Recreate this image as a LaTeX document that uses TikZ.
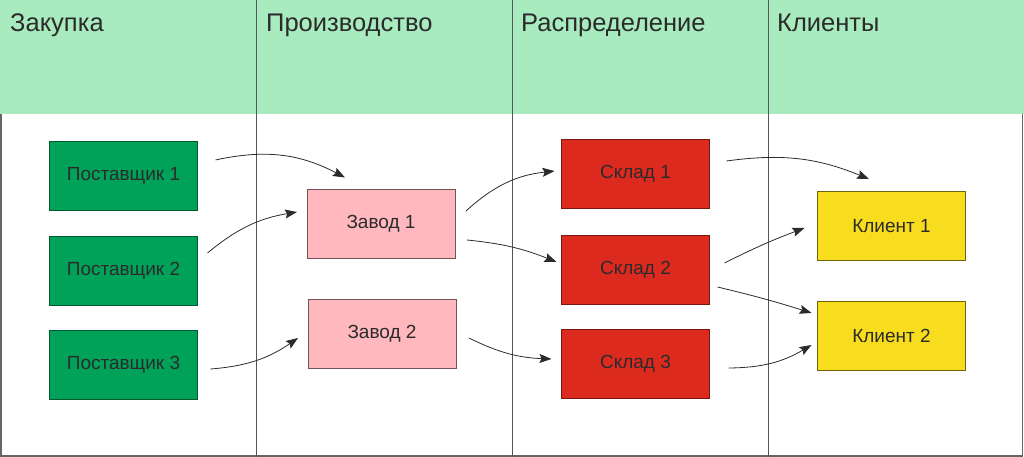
\documentclass[tikz,border=0pt]{standalone}
\usepackage{fontspec}
\setmainfont{Liberation Sans}
\usetikzlibrary{arrows.meta}
\definecolor{headgreen}{HTML}{A8EBBE}
\definecolor{boxgreen}{HTML}{00A259}
\definecolor{boxpink}{HTML}{FFB8BE}
\definecolor{boxred}{HTML}{DC2A1F}
\definecolor{boxyellow}{HTML}{F8DD1E}
\definecolor{ink}{HTML}{2B2B2B}
\newcommand{\lanehead}[3]{\node[anchor=base west,inner sep=0pt,font=\fontsize{25.5}{28}\selectfont,text=ink] (#1) at (#2) {#3};}
\tikzset{
  unit/.style={draw,line width=0.8pt,minimum width=148pt,minimum height=69pt,inner sep=0pt,outer sep=0pt,text=ink,font=\fontsize{19}{22}\selectfont},
  supplier/.style={unit,fill=boxgreen,draw=boxgreen!55!black},
  plant/.style={unit,fill=boxpink,draw=boxpink!45!black},
  store/.style={unit,fill=boxred,draw=boxred!55!black},
  client/.style={unit,fill=boxyellow,draw=boxyellow!45!black},
  flow/.style={-{Stealth[length=12pt,width=9pt,inset=2pt]},line width=0.8pt,draw=ink}
}
\begin{document}
\begin{tikzpicture}[x=1pt,y=1pt]
\useasboundingbox (0,0) rectangle (1024,457);
% lanes
\fill[headgreen] (0,343) rectangle (1024,457);
\draw[gray!80!black,line width=1.2pt] (1,343) -- (1,1) -- (1022.5,1) -- (1022.5,343);
\foreach \x in {256,512,768}
  \draw[ink!80,line width=0.8pt] (\x,0) -- (\x,457);
\lanehead{buy}{10,425}{Закупка}
\lanehead{make}{266,425}{Производство}
\lanehead{ship}{521,425}{Распределение}
\lanehead{sell}{777,425}{Клиенты}
% units
\node[supplier] (p1) at (123.5,281) {Поставщик 1};
\node[supplier] (p2) at (123.5,186) {Поставщик 2};
\node[supplier] (p3) at (123.5,92) {Поставщик 3};
\node[plant] (z1) at (381,233) {Завод 1};
\node[plant] (z2) at (382,123) {Завод 2};
\node[store] (s1) at (635.5,283.5) {Склад 1};
\node[store] (s2) at (635.5,187.5) {Склад 2};
\node[store] (s3) at (635.5,93) {Склад 3};
\node[client] (k1) at (891.5,231) {Клиент 1};
\node[client] (k2) at (891.5,121) {Клиент 2};
% flows
\draw[flow] ([shift={(18,16)}]p1.east) to[bend left=20] ([shift={(-36,12)}]z1.north);
\draw[flow] ([shift={(10,18)}]p2.east) to[bend left=15] ([shift={(-10,12)}]z1.west);
\draw[flow] ([shift={(13,-4)}]p3.east) to[bend right=15] ([shift={(-10,-4)}]z2.west);
\draw[flow] ([shift={(11,13)}]z1.east) to[bend left=18] ([shift={(-7,2.5)}]s1.west);
\draw[flow] ([shift={(12,-16)}]z1.east) to[bend left=8] ([shift={(-5,7.5)}]s2.west);
\draw[flow] ([shift={(13,-4)}]z2.east) to[bend right=12] ([shift={(-10,5)}]s3.west);
\draw[flow] ([shift={(17,12.5)}]s1.east) to[bend left=15] ([shift={(-22.5,12.5)}]k1.north);
\draw[flow] ([shift={(15,6.5)}]s2.east) to[bend left=3] ([shift={(-13,-2)}]k1.west);
\draw[flow] ([shift={(8,-17.5)}]s2.east) to[bend left=2] ([shift={(-6,23)}]k2.west);
\draw[flow] ([shift={(19,-4)}]s3.east) to[bend right=15] ([shift={(-6,-9)}]k2.west);
\end{tikzpicture}
\end{document}
